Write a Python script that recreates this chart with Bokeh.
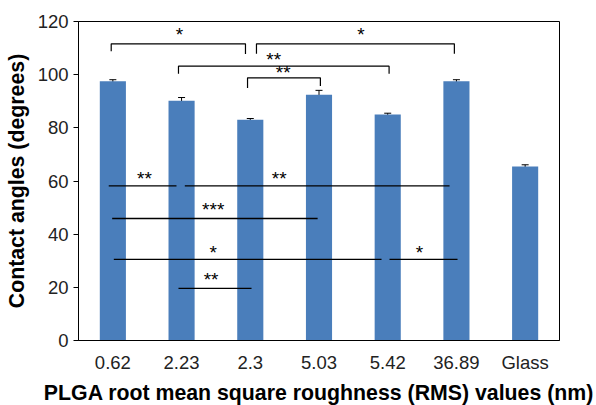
from bokeh.plotting import figure
from bokeh.models import ColumnDataSource, Whisker, FixedTicker, Range1d, TeeHead
from bokeh.core.properties import value
from bokeh.embed import file_html
from bokeh.resources import INLINE

# ---- data ----
categories = ["0.62", "2.23", "2.3", "5.03", "5.42", "36.89", "Glass"]
angles = [97.5, 90.2, 83.0, 92.4, 85.0, 97.5, 65.5]
errors = [0.6, 1.2, 0.5, 1.7, 0.5, 0.6, 0.6]

# significance brackets (top): x start, x end, bar level, left leg end, right leg end
br_x0 = [0.476, 2.59, 1.455, 2.46]
br_x1 = [2.43, 5.47, 4.52, 3.52]
br_y = [111.6, 111.6, 103.2, 98.8]
br_yl = [108.8, 107.9, 100.3, 95.0]
br_yr = [107.8, 107.9, 100.3, 95.7]
br_lab = ["*", "*", "**", "**"]
br_lx = [1.47, 4.11, 2.84, 2.98]
br_ly = [115.0, 115.0, 105.6, 100.9]

# significance lines (lower)
ln_x0 = [0.44, 1.547, 0.49, 0.514, 4.526, 1.455]
ln_x1 = [1.426, 5.40, 3.48, 4.41, 5.516, 2.518]
ln_y = [58.2, 58.2, 45.9, 30.5, 30.5, 19.6]
ln_lab = ["**", "**", "***", "*", "*", "**"]
ln_lx = [0.96, 2.92, 1.96, 1.96, 4.96, 1.93]
ln_ly = [60.9, 60.9, 49.2, 33.1, 33.1, 23.0]

yticks = [0, 20, 40, 60, 80, 100, 120]

FONT = "Liberation Sans"

xpos = [i + 0.5 for i in range(len(categories))]
src = ColumnDataSource(dict(x=xpos, top=angles,
                            upper=[a + e for a, e in zip(angles, errors)],
                            lower=[a - e for a, e in zip(angles, errors)]))

p = figure(frame_width=481, frame_height=319, output_backend="svg", toolbar_location=None,
           x_range=Range1d(0, 7), y_range=Range1d(0, 120),
           min_border_left=78, min_border_right=35, min_border_top=21, min_border_bottom=60)

p.vbar(x="x", top="top", width=0.38, source=src, fill_color="#4a7ebb", line_color=None)
w = Whisker(base="x", upper="upper", lower="lower", source=src, line_color="black", line_width=1,
            upper_head=TeeHead(size=7, line_color="black", line_width=1),
            lower_head=TeeHead(size=7, line_color="black", line_width=1))
p.add_layout(w)

# brackets
xs, ys = [], []
for x0, x1, y, yl, yr in zip(br_x0, br_x1, br_y, br_yl, br_yr):
    xs.append([x0, x0, x1, x1])
    ys.append([yl, y, y, yr])
p.multi_line(xs, ys, line_color="black", line_width=1.2)
p.text(x=br_lx, y=br_ly, text=br_lab, text_align="center", text_baseline="middle",
       text_font=value(FONT), text_font_size="19px", text_color="black")

# lines
p.segment(x0=ln_x0, y0=ln_y, x1=ln_x1, y1=ln_y, line_color="black", line_width=1.3)
p.text(x=ln_lx, y=ln_ly, text=ln_lab, text_align="center", text_baseline="middle",
       text_font=value(FONT), text_font_size="19px", text_color="black")

p.xgrid.visible = False
p.ygrid.visible = False
p.outline_line_color = "black"
p.outline_line_width = 1

p.xaxis.ticker = FixedTicker(ticks=xpos)
p.xaxis.major_label_overrides = {x: c for x, c in zip(xpos, categories)}
p.xaxis.major_tick_line_color = None
p.xaxis.major_tick_out = 0
p.xaxis.major_tick_in = 0
p.xaxis.minor_tick_line_color = None
p.xaxis.axis_line_color = "black"
p.xaxis.major_label_text_font = FONT
p.xaxis.major_label_text_font_size = "18.5px"
p.xaxis.major_label_text_color = "#222222"
p.xaxis.major_label_standoff = 11
p.xaxis.axis_label = "PLGA root mean square roughness (RMS) values (nm)"
p.xaxis.axis_label_text_font = FONT
p.xaxis.axis_label_text_font_style = "bold"
p.xaxis.axis_label_text_font_size = "21.3px"
p.xaxis.axis_label_text_color = "black"
p.xaxis.axis_label_standoff = 5

p.yaxis.ticker = FixedTicker(ticks=yticks)
p.yaxis.major_tick_in = 0
p.yaxis.major_tick_out = 5
p.yaxis.minor_tick_line_color = None
p.yaxis.axis_line_color = "black"
p.yaxis.major_tick_line_color = "black"
p.yaxis.major_label_text_font = FONT
p.yaxis.major_label_text_font_size = "18.5px"
p.yaxis.major_label_text_color = "#222222"
p.yaxis.major_label_standoff = 5
p.yaxis.axis_label = "Contact angles (degrees)"
p.yaxis.axis_label_text_font = FONT
p.yaxis.axis_label_text_font_style = "bold"
p.yaxis.axis_label_text_font_size = "21.3px"
p.yaxis.axis_label_text_color = "black"
p.yaxis.axis_label_standoff = 6

open("out.html", "w").write(file_html(p, INLINE))
